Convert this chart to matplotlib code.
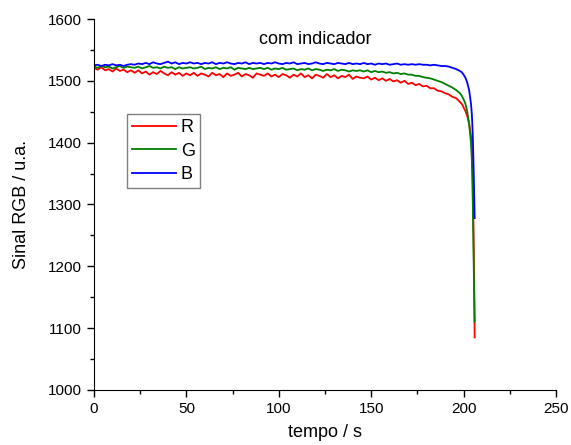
import numpy as np
import matplotlib
matplotlib.use('Agg')
import matplotlib.pyplot as plt
from matplotlib.ticker import MultipleLocator

plt.rcParams['font.family'] = ['Liberation Sans', 'DejaVu Sans']

# sampling: every 2 s up to 198 s, then denser during the final drop
tail_t = [199, 200, 201, 202, 203, 204, 204.5, 205, 205.5, 206]
tempo = np.concatenate([np.arange(0, 199, 2), tail_t])

sinal_R = [
    1521, 1518, 1522, 1517, 1519, 1515, 1520, 1516, 1518, 1514, 1517,
    1513, 1517, 1512, 1515, 1510, 1514, 1511, 1516, 1512, 1509, 1514, 1510, 1513, 1508, 1512,
    1509, 1513, 1508, 1512, 1510, 1507, 1513, 1509, 1511, 1506, 1512, 1508, 1510, 1513, 1507,
    1511, 1509, 1505, 1512, 1510,
    1508, 1512, 1507, 1510, 1506, 1511, 1509, 1505, 1510, 1507, 1512, 1506, 1509, 1504, 1510,
    1508, 1505, 1511, 1506, 1509, 1504, 1508, 1506, 1510, 1503, 1507, 1505,
    1504, 1507, 1502, 1505, 1501, 1504, 1500, 1503, 1499, 1501, 1497, 1500, 1495, 1497, 1493,
    1495, 1491, 1492, 1488, 1488, 1484, 1483, 1480, 1478, 1474, 1472, 1466,
    1463, 1457, 1451, 1443, 1431, 1410, 1390, 1340, 1230, 1085,
]
sinal_G = [
    1523, 1521, 1524, 1522, 1523, 1520, 1522, 1524, 1521, 1523, 1522,
    1521, 1523, 1520, 1522, 1524, 1521, 1522, 1520, 1523, 1521, 1522, 1519, 1522, 1520, 1521,
    1522, 1520, 1521, 1523, 1519, 1521, 1520, 1522, 1519, 1521, 1520, 1522, 1518, 1521, 1520,
    1519, 1521, 1519, 1520, 1521,
    1519, 1521, 1518, 1520, 1519, 1521, 1518, 1519, 1520, 1517, 1519, 1518, 1520, 1517, 1519,
    1518, 1516, 1518, 1517, 1519, 1516, 1518, 1517, 1515, 1517, 1516, 1517,
    1515, 1517, 1514, 1516, 1514, 1515, 1513, 1514, 1512, 1513, 1511, 1512, 1510, 1510, 1508,
    1508, 1506, 1505, 1504, 1502, 1500, 1498, 1495, 1492, 1489, 1485, 1480,
    1476, 1470, 1463, 1450, 1430, 1400, 1370, 1300, 1200, 1110,
]
sinal_B = [
    1525, 1526, 1524, 1526, 1525, 1527, 1525, 1526, 1524, 1526, 1527,
    1526, 1528, 1527, 1529, 1527, 1530, 1528, 1527, 1529, 1531, 1528, 1530, 1527, 1529, 1528,
    1530, 1528, 1529, 1527, 1529, 1528, 1530, 1527, 1529, 1528, 1530, 1528, 1527, 1529, 1528,
    1530, 1527, 1529, 1528, 1529,
    1527, 1529, 1528, 1530, 1528, 1527, 1529, 1528, 1530, 1527, 1528, 1529, 1527, 1528, 1530,
    1528, 1527, 1529, 1528, 1527, 1529, 1528, 1527, 1529, 1527, 1528, 1527,
    1529, 1527, 1528, 1526, 1528, 1527, 1528, 1526, 1527, 1528, 1526, 1527, 1526, 1527, 1526,
    1527, 1526, 1526, 1525, 1526, 1525, 1524, 1524, 1523, 1521, 1519, 1516,
    1514, 1510, 1505, 1497, 1485, 1463, 1445, 1410, 1350, 1278,
]

fig = plt.figure(figsize=(5.71, 4.45), dpi=100)
ax = fig.add_axes([0.1646, 0.1236, 0.8091, 0.8337])

ax.plot(tempo, sinal_R, color='#ff0000', lw=1.3, label='R')
ax.plot(tempo, sinal_G, color='#008000', lw=1.3, label='G')
ax.plot(tempo, sinal_B, color='#0000ff', lw=1.3, label='B')

ax.set_xlim(0, 250)
ax.set_ylim(1000, 1600)
ax.xaxis.set_major_locator(MultipleLocator(50))
ax.xaxis.set_minor_locator(MultipleLocator(25))
ax.yaxis.set_major_locator(MultipleLocator(100))
ax.yaxis.set_minor_locator(MultipleLocator(50))
ax.spines['top'].set_visible(False)
ax.spines['right'].set_visible(False)
ax.tick_params(which='major', direction='out', length=5, width=1, labelsize=11)
ax.tick_params(which='minor', direction='out', length=3, width=1)

ax.set_xlabel('tempo / s', fontsize=13, labelpad=6)
ax.set_ylabel('Sinal RGB / u.a.', fontsize=13, labelpad=13)
ax.text(0.478, 0.945, 'com indicador', transform=ax.transAxes,
        fontsize=13, ha='center', va='center')

leg = ax.legend(loc='upper left', bbox_to_anchor=(0.071, 0.744), fontsize=13,
                handlelength=2.4, labelspacing=0.35, handletextpad=0.3,
                borderpad=0.3, borderaxespad=0, fancybox=False, framealpha=1)
leg.get_frame().set_edgecolor('#808080')
leg.get_frame().set_linewidth(1)

plt.savefig('out.png', dpi=100)
